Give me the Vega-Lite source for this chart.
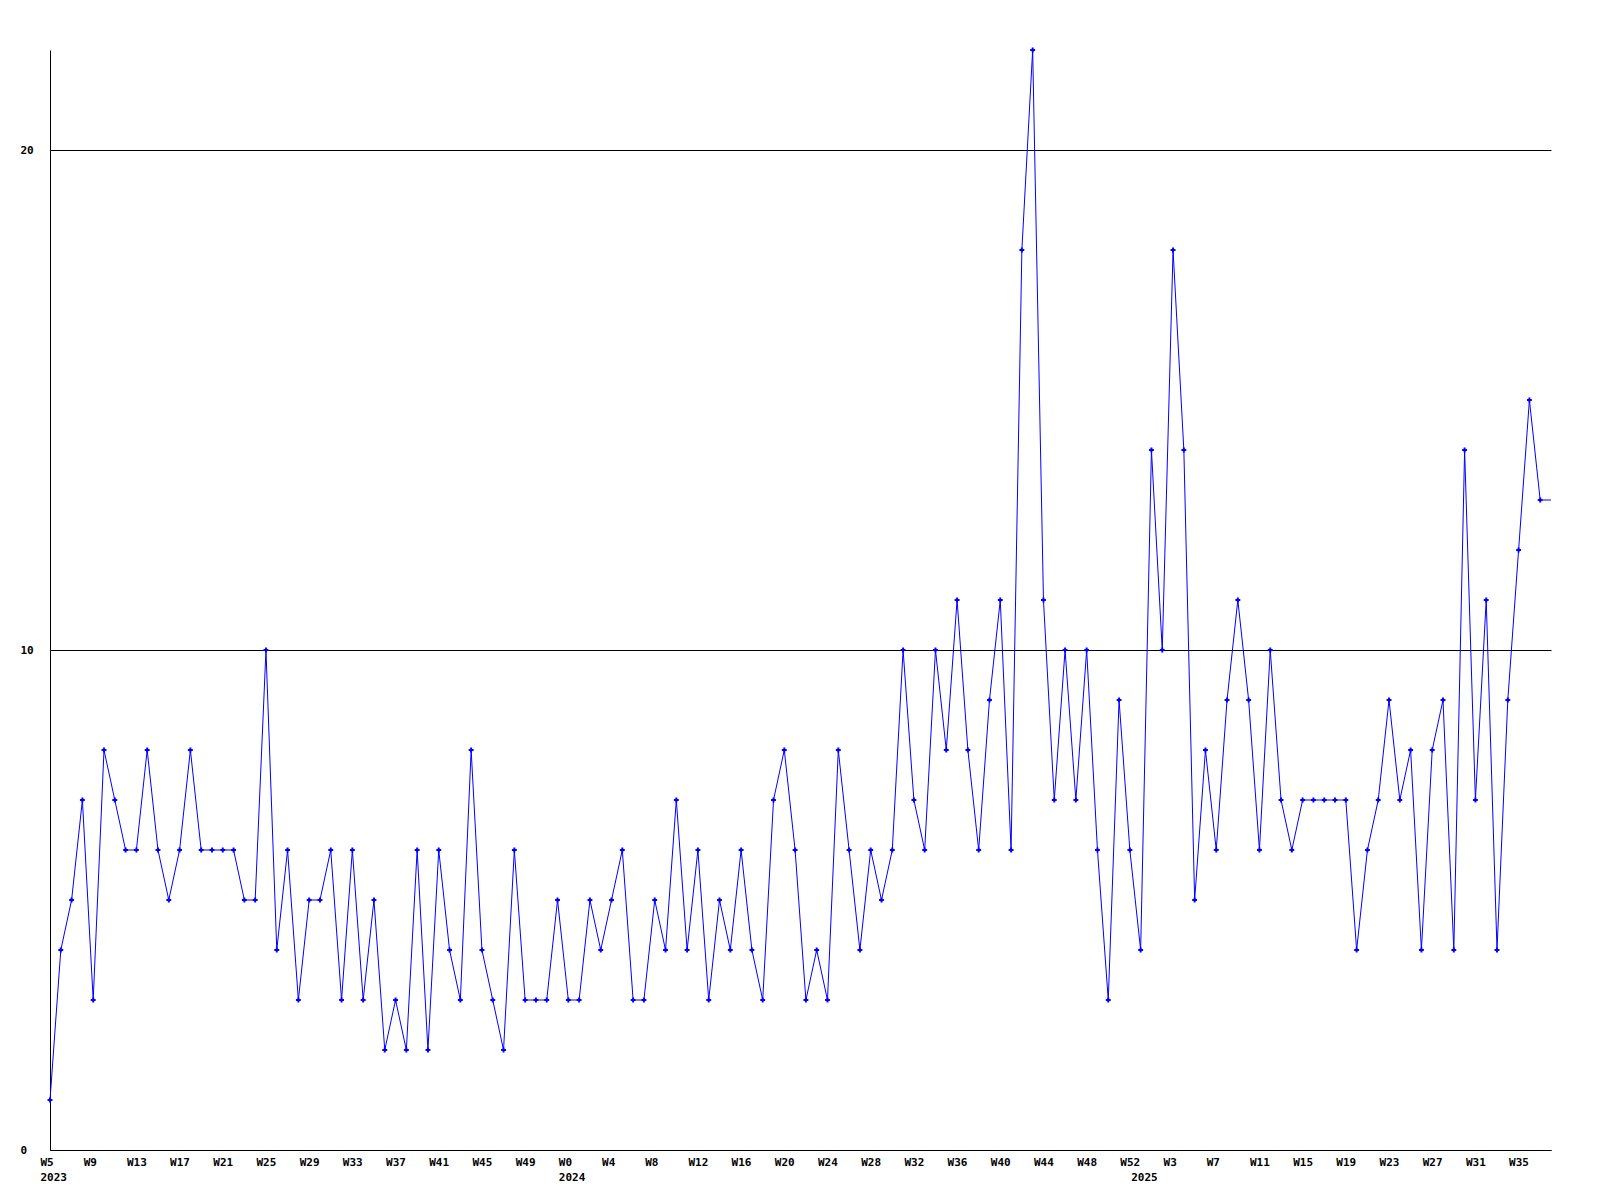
{
  "$schema": "https://vega.github.io/schema/vega-lite/v6.json",
  "width": 1501,
  "height": 1100,
  "autosize": {"type": "none"},
  "padding": {"left": 50, "top": 50, "right": 49, "bottom": 50},
  "background": "white",
  "config": {
    "view": {"stroke": null},
    "axis": {"labelFont": "DejaVu Sans Mono", "labelFontWeight": "bold", "labelFontSize": 11, "labelColor": "black", "domainColor": "black", "domainWidth": 1, "ticks": false, "tickSize": 0}
  },
  "data": {"values": [
    {"wk":"2023 W5","n":1},{"wk":"2023 W6","n":4},{"wk":"2023 W7","n":5},{"wk":"2023 W8","n":7},{"wk":"2023 W9","n":3},{"wk":"2023 W10","n":8},{"wk":"2023 W11","n":7},{"wk":"2023 W12","n":6},{"wk":"2023 W13","n":6},{"wk":"2023 W14","n":8},
    {"wk":"2023 W15","n":6},{"wk":"2023 W16","n":5},{"wk":"2023 W17","n":6},{"wk":"2023 W18","n":8},{"wk":"2023 W19","n":6},{"wk":"2023 W20","n":6},{"wk":"2023 W21","n":6},{"wk":"2023 W22","n":6},{"wk":"2023 W23","n":5},{"wk":"2023 W24","n":5},
    {"wk":"2023 W25","n":10},{"wk":"2023 W26","n":4},{"wk":"2023 W27","n":6},{"wk":"2023 W28","n":3},{"wk":"2023 W29","n":5},{"wk":"2023 W30","n":5},{"wk":"2023 W31","n":6},{"wk":"2023 W32","n":3},{"wk":"2023 W33","n":6},{"wk":"2023 W34","n":3},
    {"wk":"2023 W35","n":5},{"wk":"2023 W36","n":2},{"wk":"2023 W37","n":3},{"wk":"2023 W38","n":2},{"wk":"2023 W39","n":6},{"wk":"2023 W40","n":2},{"wk":"2023 W41","n":6},{"wk":"2023 W42","n":4},{"wk":"2023 W43","n":3},{"wk":"2023 W44","n":8},
    {"wk":"2023 W45","n":4},{"wk":"2023 W46","n":3},{"wk":"2023 W47","n":2},{"wk":"2023 W48","n":6},{"wk":"2023 W49","n":3},{"wk":"2023 W50","n":3},{"wk":"2023 W51","n":3},{"wk":"2023 W52","n":5},
    {"wk":"2024 W0","n":3},{"wk":"2024 W1","n":3},{"wk":"2024 W2","n":5},{"wk":"2024 W3","n":4},{"wk":"2024 W4","n":5},{"wk":"2024 W5","n":6},{"wk":"2024 W6","n":3},{"wk":"2024 W7","n":3},{"wk":"2024 W8","n":5},{"wk":"2024 W9","n":4},
    {"wk":"2024 W10","n":7},{"wk":"2024 W11","n":4},{"wk":"2024 W12","n":6},{"wk":"2024 W13","n":3},{"wk":"2024 W14","n":5},{"wk":"2024 W15","n":4},{"wk":"2024 W16","n":6},{"wk":"2024 W17","n":4},{"wk":"2024 W18","n":3},{"wk":"2024 W19","n":7},
    {"wk":"2024 W20","n":8},{"wk":"2024 W21","n":6},{"wk":"2024 W22","n":3},{"wk":"2024 W23","n":4},{"wk":"2024 W24","n":3},{"wk":"2024 W25","n":8},{"wk":"2024 W26","n":6},{"wk":"2024 W27","n":4},{"wk":"2024 W28","n":6},{"wk":"2024 W29","n":5},
    {"wk":"2024 W30","n":6},{"wk":"2024 W31","n":10},{"wk":"2024 W32","n":7},{"wk":"2024 W33","n":6},{"wk":"2024 W34","n":10},{"wk":"2024 W35","n":8},{"wk":"2024 W36","n":11},{"wk":"2024 W37","n":8},{"wk":"2024 W38","n":6},{"wk":"2024 W39","n":9},
    {"wk":"2024 W40","n":11},{"wk":"2024 W41","n":6},{"wk":"2024 W42","n":18},{"wk":"2024 W43","n":22},{"wk":"2024 W44","n":11},{"wk":"2024 W45","n":7},{"wk":"2024 W46","n":10},{"wk":"2024 W47","n":7},{"wk":"2024 W48","n":10},{"wk":"2024 W49","n":6},
    {"wk":"2024 W50","n":3},{"wk":"2024 W51","n":9},{"wk":"2024 W52","n":6},
    {"wk":"2025 W0","n":4},{"wk":"2025 W1","n":14},{"wk":"2025 W2","n":10},{"wk":"2025 W3","n":18},{"wk":"2025 W4","n":14},{"wk":"2025 W5","n":5},{"wk":"2025 W6","n":8},{"wk":"2025 W7","n":6},{"wk":"2025 W8","n":9},{"wk":"2025 W9","n":11},
    {"wk":"2025 W10","n":9},{"wk":"2025 W11","n":6},{"wk":"2025 W12","n":10},{"wk":"2025 W13","n":7},{"wk":"2025 W14","n":6},{"wk":"2025 W15","n":7},{"wk":"2025 W16","n":7},{"wk":"2025 W17","n":7},{"wk":"2025 W18","n":7},{"wk":"2025 W19","n":7},
    {"wk":"2025 W20","n":4},{"wk":"2025 W21","n":6},{"wk":"2025 W22","n":7},{"wk":"2025 W23","n":9},{"wk":"2025 W24","n":7},{"wk":"2025 W25","n":8},{"wk":"2025 W26","n":4},{"wk":"2025 W27","n":8},{"wk":"2025 W28","n":9},{"wk":"2025 W29","n":4},
    {"wk":"2025 W30","n":14},{"wk":"2025 W31","n":7},{"wk":"2025 W32","n":11},{"wk":"2025 W33","n":4},{"wk":"2025 W34","n":9},{"wk":"2025 W35","n":12},{"wk":"2025 W36","n":15},{"wk":"2025 W37","n":13},{"wk":"2025 W38","n":13}
  ]},
  "encoding": {
    "x": {
      "field": "wk", "type": "ordinal", "sort": null,
      "scale": {"type": "point", "padding": 0},
      "axis": {
        "title": null, "labelAngle": 0, "labelAlign": "left", "labelBaseline": "top", "labelOffset": -10, "labelPadding": 6,
        "labelOverlap": false, "labelBound": false, "labelFlush": false, "labelLineHeight": 15,
        "values": ["2023 W5","2023 W9","2023 W13","2023 W17","2023 W21","2023 W25","2023 W29","2023 W33","2023 W37","2023 W41","2023 W45","2023 W49",
                   "2024 W0","2024 W4","2024 W8","2024 W12","2024 W16","2024 W20","2024 W24","2024 W28","2024 W32","2024 W36","2024 W40","2024 W44","2024 W48","2024 W52",
                   "2025 W0","2025 W3","2025 W7","2025 W11","2025 W15","2025 W19","2025 W23","2025 W27","2025 W31","2025 W35"],
        "labelExpr": "datum.value == '2023 W5' ? ['W5','2023'] : datum.value == '2024 W0' ? ['W0','2024'] : datum.value == '2025 W0' ? ['','2025'] : slice(datum.value, 5)"
      }
    },
    "y": {
      "field": "n", "type": "quantitative",
      "scale": {"domain": [0, 22], "nice": false, "zero": true},
      "axis": {"title": null, "values": [0, 10, 20], "grid": true, "gridColor": "black", "gridOpacity": 1, "gridWidth": 1, "labelAlign": "left", "labelBaseline": "middle", "labelPadding": 30}
    }
  },
  "layer": [
    {"mark": {"type": "line", "color": "#0000ff", "strokeWidth": 1, "interpolate": "linear"}},
    {"transform": [{"filter": "datum.wk != '2025 W38'"}],
     "mark": {"type": "point", "shape": "cross", "filled": true, "size": 24, "color": "#0000ff", "opacity": 1}}
  ]
}
